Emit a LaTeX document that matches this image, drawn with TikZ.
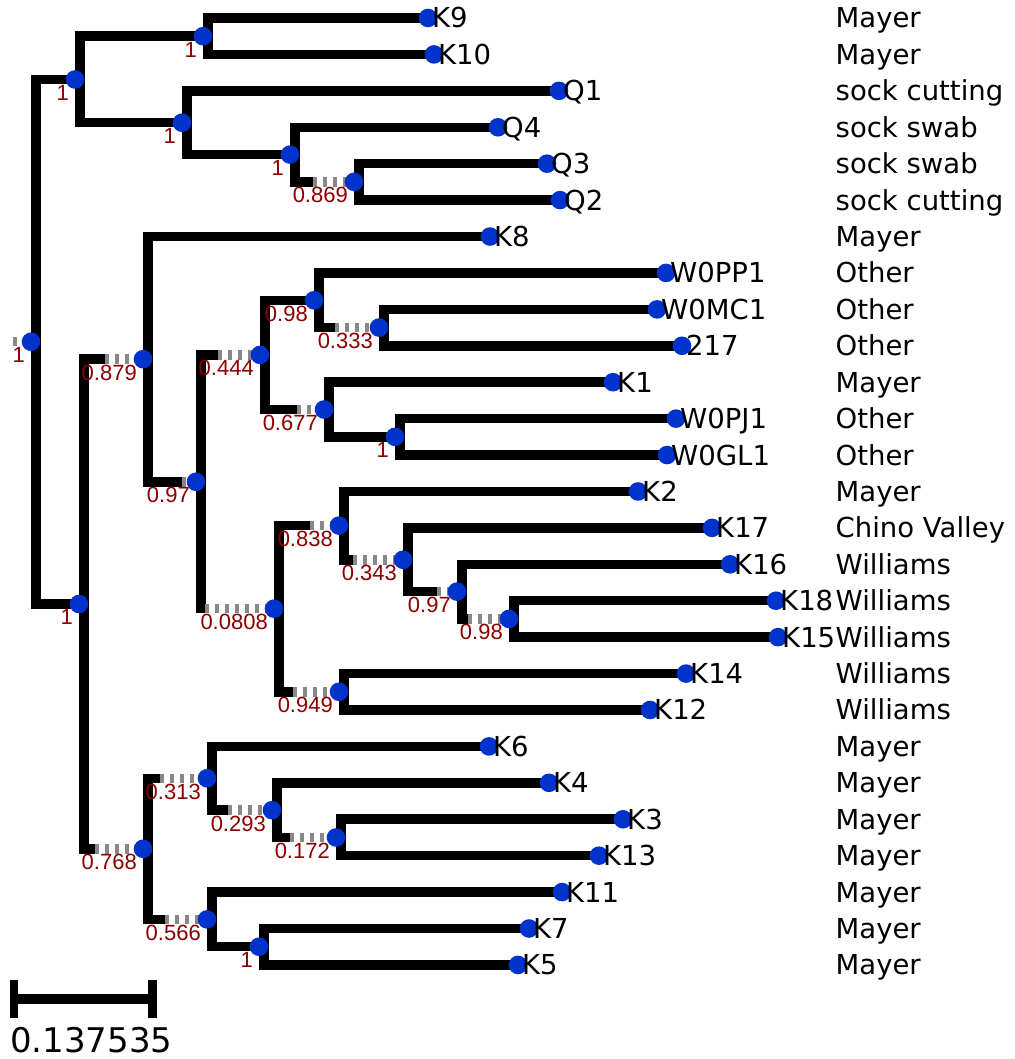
\documentclass[tikz,border=0pt]{standalone}
\usepackage{fontspec}
\usetikzlibrary{calc}
\newfontfamily\dvs{DejaVu Sans}
\newfontfamily\lbs{Liberation Sans}
\definecolor{dotblue}{RGB}{0,51,204}
\definecolor{supred}{RGB}{140,0,0}
\definecolor{dashgray}{RGB}{136,136,136}
\newcommand\mkclade[3]{\draw[br] (#2) -- ($(#1|-#2)+(4.75,0)$) -- ($(#1|-#3)+(4.75,0)$) -- (#3);}
\begin{document}
\begin{tikzpicture}[x=1pt,y=-1pt,
  br/.style={line width=9.5pt,black,line join=miter},
  gr/.style={line width=9.5pt,dashgray,dash pattern=on 3.5pt off 6.5pt},
  dotn/.style={fill=dotblue},
  sup/.style={anchor=north east,inner sep=0pt,text=supred,font=\lbs\fontsize{22}{24}\selectfont},
  leaf/.style={anchor=base west,inner sep=0pt,font=\dvs\fontsize{27.5}{30}\selectfont},
  scl/.style={anchor=base west,inner sep=0pt,font=\dvs\fontsize{34}{38}\selectfont}]
\useasboundingbox (0,0) rectangle (1014,1059);
% leaves
\coordinate (K9) at (428,18);
\coordinate (K10) at (434,54.42);
\coordinate (Q1) at (559,90.84);
\coordinate (Q4) at (498,127.26);
\coordinate (Q3) at (547,163.68);
\coordinate (Q2) at (560,200.10);
\coordinate (K8) at (490,236.52);
\coordinate (W0PP1) at (666,272.94);
\coordinate (W0MC1) at (657,309.36);
\coordinate (L217) at (682,345.78);
\coordinate (K1) at (613,382.20);
\coordinate (W0PJ1) at (676,418.62);
\coordinate (W0GL1) at (667,455.04);
\coordinate (K2) at (638,491.46);
\coordinate (K17) at (712,527.88);
\coordinate (K16) at (730,564.30);
\coordinate (K18) at (776,600.72);
\coordinate (K15) at (778,637.14);
\coordinate (K14) at (686,673.56);
\coordinate (K12) at (650,709.98);
\coordinate (K6) at (489,746.40);
\coordinate (K4) at (549,782.82);
\coordinate (K3) at (623,819.24);
\coordinate (K13) at (599,855.66);
\coordinate (K11) at (562,892.08);
\coordinate (K7) at (529,928.50);
\coordinate (K5) at (518,964.92);
% internal nodes
\coordinate (R) at (31,341.73);
\coordinate (A) at (75,79.46);
\coordinate (N1) at (203,36.21);
\coordinate (N2) at (182,122.71);
\coordinate (N3) at (290,154.58);
\coordinate (N4) at (354,181.89);
\coordinate (B) at (79,604.0);
\coordinate (C) at (143,359.16);
\coordinate (D) at (196,481.79);
\coordinate (E) at (260,354.89);
\coordinate (F) at (314,300.26);
\coordinate (G) at (379,327.57);
\coordinate (H) at (324,409.52);
\coordinate (I) at (395,436.83);
\coordinate (J) at (274,608.69);
\coordinate (K) at (339,525.6);
\coordinate (L) at (403,559.75);
\coordinate (M) at (457,591.62);
\coordinate (N) at (509,618.93);
\coordinate (O) at (339,691.77);
\coordinate (P) at (143,848.83);
\coordinate (Q) at (207,778.27);
\coordinate (S) at (272,810.14);
\coordinate (T) at (336,837.45);
\coordinate (U) at (207,919.40);
\coordinate (V) at (259,946.71);
% break points (end of black part)
\coordinate (Rb) at (13,341.73);
\coordinate (N4b) at (313,181.89);
\coordinate (Cb) at (105,359.16);
\coordinate (Db) at (182,481.79);
\coordinate (Eb) at (218,354.89);
\coordinate (Gb) at (335,327.57);
\coordinate (Hb) at (297,409.52);
\coordinate (Jb) at (205,608.69);
\coordinate (Kb) at (310,525.6);
\coordinate (Lb) at (353,559.75);
\coordinate (Mb) at (437,591.62);
\coordinate (Nb) at (468,618.93);
\coordinate (Ob) at (293,691.77);
\coordinate (Pb) at (95,848.83);
\coordinate (Qb) at (160,778.27);
\coordinate (Sb) at (228,810.14);
\coordinate (Tb) at (290,837.45);
\coordinate (Ub) at (165,919.40);
% black branches
\mkclade{R}{A}{B}
\mkclade{A}{N1}{N2}
\mkclade{N1}{K9}{K10}
\mkclade{N2}{Q1}{N3}
\mkclade{N3}{Q4}{N4b}
\mkclade{N4}{Q3}{Q2}
\mkclade{B}{Cb}{Pb}
\mkclade{C}{K8}{Db}
\mkclade{D}{Eb}{Jb}
\mkclade{E}{F}{Hb}
\mkclade{F}{W0PP1}{Gb}
\mkclade{G}{W0MC1}{L217}
\mkclade{H}{K1}{I}
\mkclade{I}{W0PJ1}{W0GL1}
\mkclade{J}{Kb}{Ob}
\mkclade{K}{K2}{Lb}
\mkclade{L}{K17}{Mb}
\mkclade{M}{K16}{Nb}
\mkclade{N}{K18}{K15}
\mkclade{O}{K14}{K12}
\mkclade{P}{Qb}{Ub}
\mkclade{Q}{K6}{Sb}
\mkclade{S}{K4}{Tb}
\mkclade{T}{K3}{K13}
\mkclade{U}{K11}{V}
\mkclade{V}{K7}{K5}
% gray dashed parts
\foreach \c in {R,N4,C,D,E,G,H,J,K,L,M,N,O,P,Q,S,T,U}
  \draw[gr] (\c b) -- (\c);
% dots
\foreach \c in {R,A,N1,N2,N3,N4,B,C,D,E,F,G,H,I,J,K,L,M,N,O,P,Q,S,T,U,V,
  K9,K10,Q1,Q4,Q3,Q2,K8,W0PP1,W0MC1,L217,K1,W0PJ1,W0GL1,K2,K17,K16,K18,K15,K14,K12,K6,K4,K3,K13,K11,K7,K5}
  \fill[dotn] (\c) circle[radius=9.3pt];
% support values
\foreach \c/\v in {R/1,A/1,N1/1,N2/1,N3/1,N4/0.869,B/1,C/0.879,D/0.97,E/0.444,F/0.98,G/0.333,
  H/0.677,I/1,J/0.0808,K/0.838,L/0.343,M/0.97,N/0.98,O/0.949,P/0.768,Q/0.313,S/0.293,T/0.172,U/0.566,V/1}
  \node[sup] (s\c) at ($(\c)+(-6,5.5)$) {\v};
% leaf names and groups
\coordinate (G0) at (835.5,0);
\foreach \c/\t/\g in {K9/K9/Mayer,K10/K10/Mayer,Q1/Q1/sock cutting,Q4/Q4/sock swab,Q3/Q3/sock swab,
  Q2/Q2/sock cutting,K8/K8/Mayer,W0PP1/W0PP1/Other,W0MC1/W0MC1/Other,L217/217/Other,K1/K1/Mayer,
  W0PJ1/W0PJ1/Other,W0GL1/W0GL1/Other,K2/K2/Mayer,K17/K17/Chino Valley,K16/K16/Williams,
  K18/K18/Williams,K15/K15/Williams,K14/K14/Williams,K12/K12/Williams,K6/K6/Mayer,K4/K4/Mayer,
  K3/K3/Mayer,K13/K13/Mayer,K11/K11/Mayer,K7/K7/Mayer,K5/K5/Mayer}{
  \node[leaf] (t\c) at ($(\c)+(4,10)$) {\t};
  \node[leaf] (g\c) at ($(\c -| G0)+(0,10)$) {\g};
}
% scale bar
\coordinate (SB1) at (14,999);
\coordinate (SB2) at (152.5,999);
\draw[line width=9.5pt] (SB1) -- (SB2);
\draw[line width=8.5pt] ($(SB1)+(0,-19)$) -- ($(SB1)+(0,19)$);
\draw[line width=8.5pt] ($(SB2)+(0,-19)$) -- ($(SB2)+(0,19)$);
\node[scl] (SBl) at (10,1052) {0.137535};
\end{tikzpicture}
\end{document}
